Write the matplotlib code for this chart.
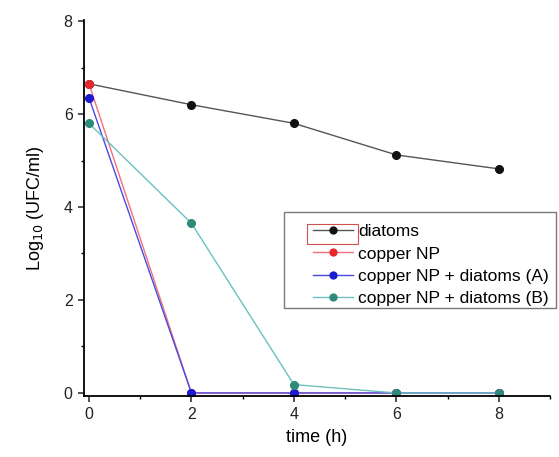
import numpy as np
import matplotlib
matplotlib.use("Agg")
from matplotlib import pyplot as plt
from matplotlib.patches import Rectangle
from matplotlib.ticker import MultipleLocator

plt.rcParams['font.family'] = ['Liberation Sans', 'DejaVu Sans']

# data
time_h = [0, 2, 4, 6, 8]
diatoms = [6.65, 6.20, 5.80, 5.12, 4.82]
copper_np = [6.65, 0.0, 0.0, 0.0, 0.0]
copper_diat_a = [6.35, 0.0, 0.0, 0.0, 0.0]
copper_diat_b = [5.80, 3.65, 0.18, 0.0, 0.0]
labels = ["diatoms", "copper NP", "copper NP + diatoms (A)", "copper NP + diatoms (B)"]

fig = plt.figure(figsize=(5.59, 4.57), dpi=100)
ax = fig.add_axes([0.150, 0.133, 0.834, 0.823])

series = [
    (diatoms, "#555555", "#111111"),
    (copper_np, "#f07080", "#e8262a"),
    (copper_diat_a, "#4a4ae0", "#1a1ad0"),
    (copper_diat_b, "#6cc0c0", "#2e8b7a"),
]
for (vals, lc, mc), lab in zip(series, labels):
    ax.plot(time_h, vals, color=lc, lw=1.0, marker="o", markersize=5.5,
            markerfacecolor=mc, markeredgecolor=mc, label=lab)

ax.set_xlim(-0.1, 9)
ax.set_ylim(-0.07, 8.02)
ax.xaxis.set_major_locator(MultipleLocator(2))
ax.xaxis.set_minor_locator(MultipleLocator(1))
ax.yaxis.set_major_locator(MultipleLocator(2))
ax.yaxis.set_minor_locator(MultipleLocator(1))
ax.spines['top'].set_visible(False)
ax.spines['right'].set_visible(False)
ax.spines['left'].set_linewidth(1.3)
ax.spines['bottom'].set_linewidth(1.3)
ax.tick_params(which='major', direction='out', length=4.5, width=1.1, labelsize=11.5, colors='#222222')
ax.tick_params(which='minor', direction='out', length=2.5, width=1.0)

ax.set_xlabel("time (h)", fontsize=13, labelpad=5)
ax.set_ylabel("Log$_{10}$ (UFC/ml)", fontsize=13, labelpad=13)

# legend without its own frame; frame drawn below with a wide left margin
leg = ax.legend(loc='upper left', bbox_to_anchor=(0.48, 0.471), fontsize=12.5,
                frameon=False, handlelength=2.3, handletextpad=0.3,
                labelspacing=0.40, borderpad=0.3, borderaxespad=0, markerscale=0.9)

fig.canvas.draw()
lb = leg.get_window_extent()
fig.patches.append(Rectangle((lb.x0 - 24, lb.y0 + 3), lb.x1 - lb.x0 + 26, lb.height + 4,
                             transform=None, fill=False, edgecolor='#777777', lw=1.0))
# small red selection box around the first legend key, as in the reference
hb = leg.legend_handles[0].get_window_extent()
fig.patches.append(Rectangle((hb.x0 - 2, hb.y0 - 10), hb.width + 4, 20,
                             transform=None, fill=False, edgecolor='#d05050', lw=0.8))

fig.savefig("out.png", dpi=100)
